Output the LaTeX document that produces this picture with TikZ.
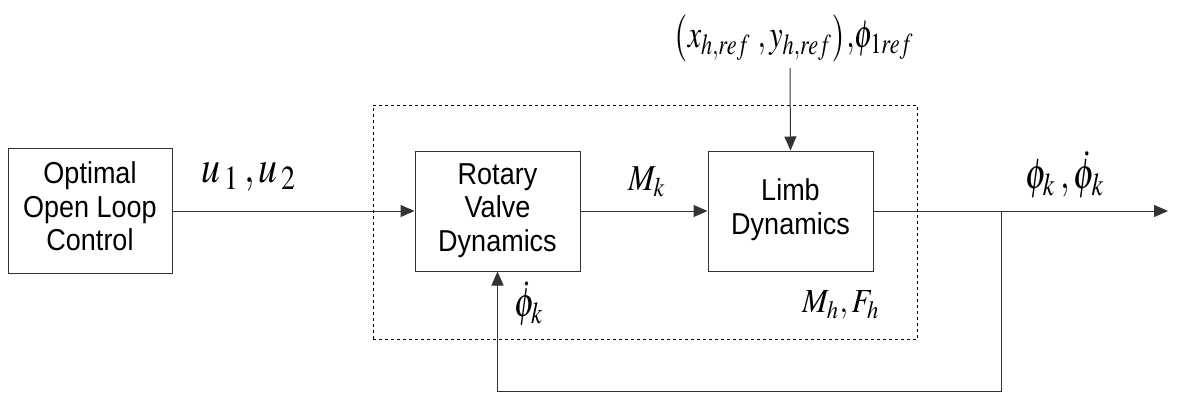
\documentclass[tikz,border=0pt]{standalone}
\usepackage{mathptmx}
\usepackage{graphicx}
\usepackage{fontspec}
\setmainfont{Liberation Sans}
\usetikzlibrary{arrows.meta}
% block captions, slightly tall letterforms
\newcommand{\blocktext}[1]{\scalebox{1}[1.12]{\begin{tabular}{@{}c@{}}#1\end{tabular}}}
% signal label: given width, then stretched upright by a factor
\newcommand{\sizedlabel}[3]{\scalebox{1}[#2]{\resizebox{#1}{!}{$#3$}}}
\begin{document}
\begin{tikzpicture}[x=1pt,y=-1pt,
  block/.style={draw=black!80, line width=1pt, minimum width=165pt, minimum height=120pt,
    inner sep=0pt, align=center, font=\fontsize{27}{30}\selectfont},
  sig/.style={draw=black!80, line width=1pt, -{Triangle[length=14pt,width=12pt]}},
  lab/.style={inner sep=0pt, outer sep=0pt}]
\useasboundingbox (0,0) rectangle (1178,397);

% subsystem boundary
\node[draw, dashed, line width=0.8pt, minimum width=544.5pt, minimum height=234pt,
  inner sep=0pt] (sys) at (645.25,222) {};

% blocks
\node[block, minimum width=164pt, minimum height=125pt] (ctrl) at (90,210.5)
  {\blocktext{Optimal\\Open Loop\\Control}};
\node[block] (rv) at (497.5,211) {\blocktext{Rotary\\Valve\\Dynamics}};
\node[block] (limb) at (790.5,211) {\blocktext{Limb\\Dynamics}};

% free ends of signal lines
\coordinate (refin) at (790,68);
\coordinate (out) at (1168,211);
\coordinate (br) at (1001,211);
\coordinate (bot) at (1001,391);

% signal flow
\draw[sig] (ctrl.east |- rv.west) -- (rv.west);
\draw[sig] (rv.east) -- (limb.west);
\draw[sig] (limb.east) -- (out);
\draw[sig] (refin) -- (limb.north);
\draw[sig] (br) -- (bot) -| (rv.south);

% signal labels
\node[lab] (ref) at (794,38)
  {\sizedlabel{240pt}{1.3}{\left(x_{h,ref}\;, y_{h,ref}\right)\!,\!\phi_{1ref}}};
\node[lab] (u) at (249.5,177) {\sizedlabel{95pt}{1.2}{u_{\,1}\,, u_{\,2}}};
\node[lab] (mk) at (647,182) {\sizedlabel{38pt}{1.15}{M_{k}}};
\node[lab] (phk) at (1065,175) {\sizedlabel{80pt}{1.25}{\phi_{k}\,, \dot{\phi}_{k}}};
\node[lab] (mh) at (841,305) {\sizedlabel{78pt}{1.1}{M_{h}, F_{h}}};
\node[lab] (phd) at (529,304) {\sizedlabel{30pt}{1.25}{\dot{\phi}_{k}}};
\end{tikzpicture}
\end{document}
